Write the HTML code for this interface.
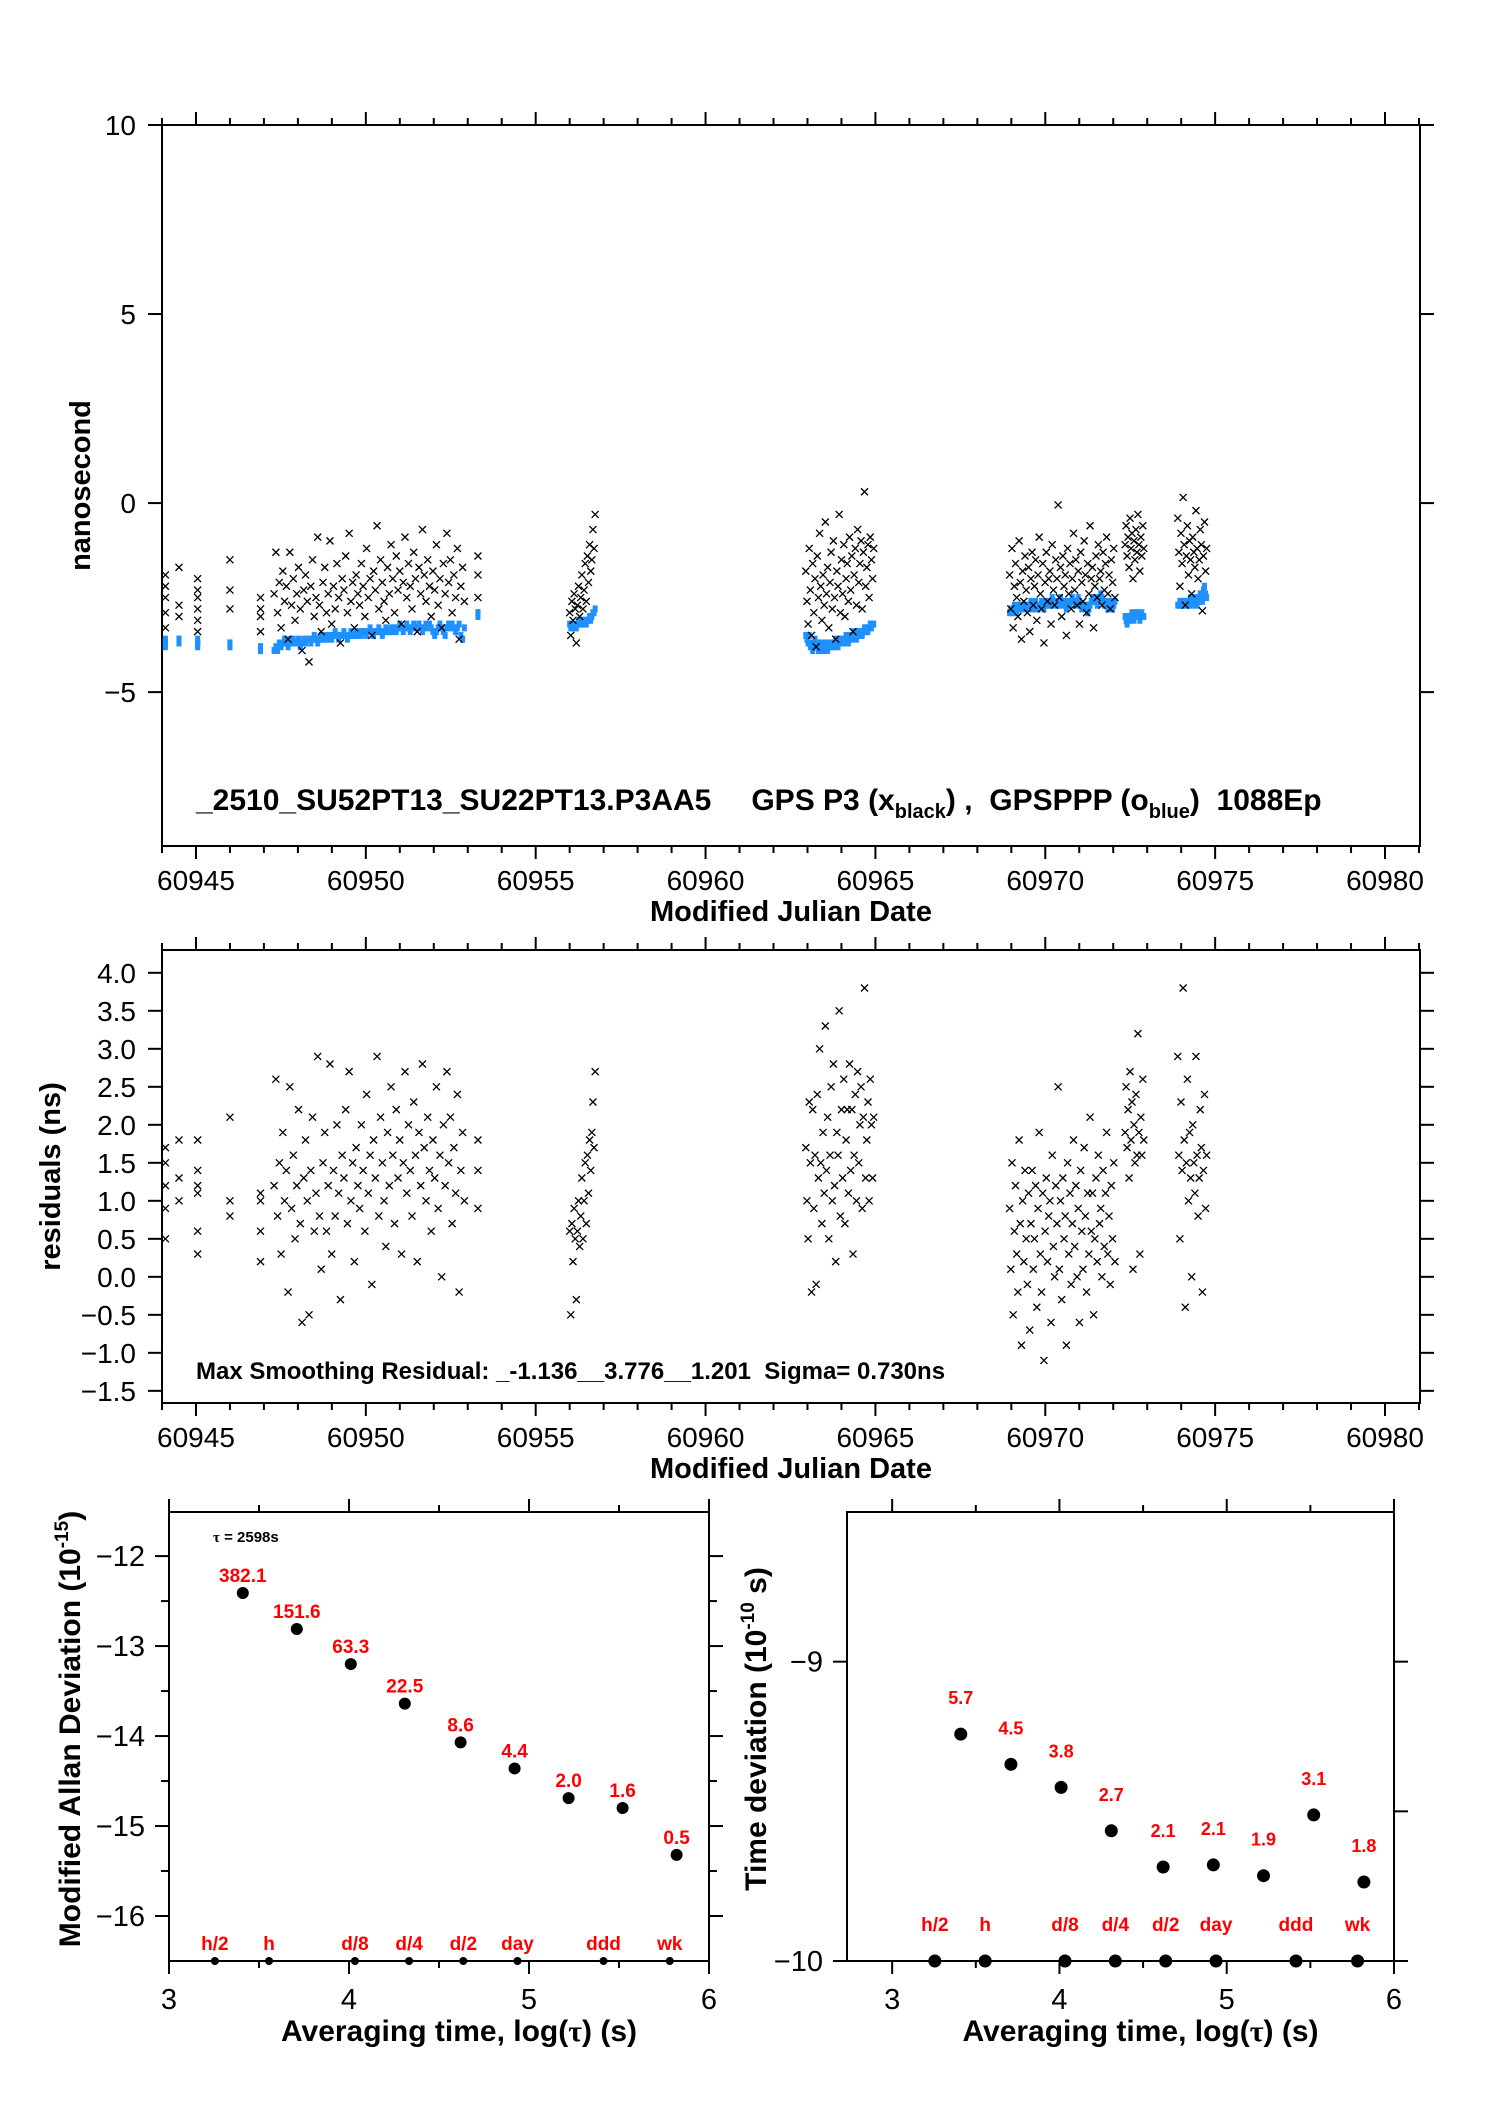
<!DOCTYPE html>
<html><head><meta charset="utf-8"><style>
html,body{margin:0;padding:0;background:#fff}
svg{display:block}
text{font-family:"Liberation Sans",Arial,sans-serif;white-space:pre}
</style></head><body>
<svg id="fig" xmlns="http://www.w3.org/2000/svg" width="1488" height="2105" viewBox="0 0 1488 2105">
<rect width="1488" height="2105" fill="#fff"/>
<g id="top"></g>
<g id="mid"></g>
<g id="adev"></g>
<g id="tdev"></g>
</svg>
<script>
// ---- data ----
const segStart=[60944.1,60944.5,60945.05,60946.0,60946.9,60947.3,60953.3,60956.0,60962.95,60968.95,60972.35,60973.9];
const segEnd  =[60944.1,60944.5,60945.05,60946.0,60946.9,60952.9,60953.3,60956.75,60964.95,60972.05,60972.9,60974.75];
const blackValues=[
[-1.9,-2.5,-2.9,-3.3,-2.2],
[-1.7,-2.7,-3.0],
[-2.0,-2.3,-2.8,-3.1,-3.4,-2.5],
[-1.5,-2.3,-2.8],
[-2.5,-3.0,-3.4,-2.8],
[-2.4,-1.3,-2.9,-2.1,-3.3,-1.8,-2.6,-2.2,-3.6,-1.3,-2.7,-2.0,-3.1,-2.4,-1.7,-2.8,-3.9,-2.3,-1.9,-2.6,-4.2,-2.2,-1.5,-3.0,-2.5,-0.9,-2.7,-3.4,-2.1,-1.7,-2.9,-2.4,-1.0,-3.2,-2.2,-2.8,-1.6,-2.5,-3.7,-2.0,-2.3,-1.4,-2.9,-0.8,-2.6,-2.1,-3.3,-1.9,-2.4,-2.7,-1.6,-2.2,-3.0,-1.2,-2.5,-2.0,-3.5,-1.8,-2.3,-0.6,-2.8,-1.5,-2.1,-2.6,-3.1,-1.7,-2.4,-1.1,-2.0,-2.9,-1.4,-2.3,-1.8,-3.2,-2.1,-0.9,-2.5,-1.6,-2.2,-2.8,-1.3,-2.0,-3.4,-1.7,-2.4,-0.7,-1.9,-2.6,-1.5,-2.2,-3.0,-1.8,-2.3,-1.1,-2.7,-2.0,-3.3,-1.6,-2.4,-0.8,-2.1,-1.5,-2.9,-1.9,-2.5,-1.2,-3.6,-2.2,-1.7,-2.6],
[-1.4,-1.9,-2.5],
[-2.9,-3.5,-2.6,-3.1,-2.4,-2.8,-3.7,-2.7,-2.2,-3.0,-2.5,-1.9,-2.8,-2.3,-1.6,-2.6,-1.4,-2.1,-1.1,-1.8,-1.5,-0.7,-1.2,-0.3],
[-1.8,-2.6,-3.2,-1.2,-2.3,-3.5,-1.6,-2.9,-2.0,-3.8,-1.4,-2.5,-0.8,-2.2,-3.1,-1.9,-2.7,-0.5,-2.4,-1.7,-3.3,-2.1,-1.3,-2.8,-1.0,-2.5,-3.6,-1.8,-2.2,-0.3,-2.9,-1.5,-2.4,-1.1,-3.0,-2.0,-1.6,-2.6,-0.9,-2.3,-1.4,-3.4,-1.9,-1.2,-2.7,-0.7,-2.1,-1.6,-1.0,-2.8,-1.3,0.3,-2.2,-1.7,-1.1,-2.5,-0.9,-1.5,-2.0,-1.2],
[-1.9,-2.8,-1.2,-3.3,-2.2,-1.6,-2.5,-3.0,-1.0,-2.1,-3.6,-1.8,-2.6,-1.4,-2.3,-2.9,-1.7,-3.4,-2.0,-1.3,-2.7,-2.2,-1.5,-3.1,-1.9,-0.9,-2.4,-2.8,-1.6,-3.7,-2.1,-1.3,-2.6,-2.0,-1.8,-3.2,-1.1,-2.3,-2.7,-1.5,-2.0,-0.05,-2.5,-1.7,-3.0,-1.4,-2.2,-1.9,-3.5,-1.2,-2.4,-1.6,-2.8,-2.0,-0.8,-2.3,-1.5,-2.7,-1.8,-3.2,-1.3,-2.1,-2.6,-1.0,-1.9,-2.9,-1.6,-2.4,-0.6,-2.0,-1.7,-3.3,-2.2,-1.4,-2.5,-1.1,-2.0,-1.8,-2.7,-1.3,-2.3,-1.6,-0.9,-2.4,-1.9,-2.8,-1.5,-2.1,-1.2,-2.5],
[-1.1,-0.6,-1.4,-0.9,-1.7,-0.4,-1.2,-0.8,-2.0,-1.0,-1.5,-0.7,-1.3,-0.3,-1.1,-1.8,-0.9,-1.4,-0.6,-1.2],
[-0.4,-1.3,-2.2,-0.8,-1.6,0.15,-1.1,-2.7,-1.4,-0.6,-1.9,-1.0,-1.5,-2.4,-0.9,-1.3,-1.7,-0.2,-1.2,-2.0,-1.5,-0.7,-1.1,-2.85,-1.4,-0.5,-1.8,-1.2]
];
const blueValues=[
[-3.7,-3.8,-3.7,-3.6,-3.7],
[-3.6,-3.6,-3.7],
[-3.7,-3.7,-3.8,-3.7,-3.6,-3.7],
[-3.7,-3.8,-3.7],
[-3.8,-3.9,-3.9,-3.8],
[-3.9,-3.8,-3.9,-3.7,-3.8,-3.7,-3.6,-3.7,-3.8,-3.6,-3.7,-3.6,-3.7,-3.7,-3.6,-3.8,-3.7,-3.6,-3.7,-3.6,-3.6,-3.7,-3.6,-3.5,-3.6,-3.7,-3.6,-3.5,-3.6,-3.6,-3.5,-3.6,-3.5,-3.6,-3.5,-3.4,-3.5,-3.6,-3.5,-3.5,-3.4,-3.5,-3.6,-3.5,-3.4,-3.5,-3.5,-3.4,-3.5,-3.4,-3.5,-3.4,-3.4,-3.5,-3.4,-3.3,-3.4,-3.5,-3.4,-3.4,-3.3,-3.4,-3.5,-3.4,-3.3,-3.4,-3.4,-3.3,-3.4,-3.3,-3.4,-3.3,-3.2,-3.3,-3.4,-3.3,-3.2,-3.3,-3.4,-3.3,-3.2,-3.3,-3.3,-3.2,-3.3,-3.4,-3.3,-3.2,-3.3,-3.2,-3.3,-3.4,-3.5,-3.4,-3.3,-3.2,-3.3,-3.4,-3.5,-3.3,-3.2,-3.3,-3.2,-3.3,-3.4,-3.3,-3.2,-3.5,-3.6,-3.3],
[-2.9,-2.9,-3.0],
[-3.2,-3.3,-3.2,-3.3,-3.2,-3.3,-3.3,-3.2,-3.2,-3.1,-3.2,-3.1,-3.2,-3.1,-3.1,-3.2,-3.1,-3.1,-3.0,-3.1,-3.0,-2.9,-2.9,-2.8],
[-3.5,-3.6,-3.7,-3.5,-3.8,-3.7,-3.9,-3.8,-3.6,-3.7,-3.8,-3.9,-3.8,-3.7,-3.8,-3.9,-3.8,-3.7,-3.8,-3.9,-3.8,-3.7,-3.8,-3.7,-3.8,-3.7,-3.6,-3.7,-3.8,-3.7,-3.6,-3.7,-3.6,-3.7,-3.6,-3.5,-3.6,-3.7,-3.6,-3.5,-3.6,-3.5,-3.4,-3.5,-3.6,-3.5,-3.4,-3.5,-3.4,-3.5,-3.4,-3.3,-3.4,-3.3,-3.4,-3.3,-3.2,-3.3,-3.2,-3.2],
[-2.9,-2.8,-2.9,-2.8,-2.7,-2.8,-2.9,-2.8,-2.7,-2.8,-2.7,-2.8,-2.7,-2.8,-2.8,-2.7,-2.8,-2.7,-2.6,-2.7,-2.8,-2.7,-2.6,-2.7,-2.8,-2.7,-2.7,-2.6,-2.7,-2.8,-2.7,-2.6,-2.7,-2.6,-2.7,-2.6,-2.5,-2.6,-2.7,-2.6,-2.6,-2.7,-2.6,-2.5,-2.6,-2.7,-2.6,-2.7,-2.8,-2.7,-2.6,-2.7,-2.6,-2.5,-2.6,-2.6,-2.7,-2.6,-2.5,-2.6,-2.7,-2.8,-2.7,-2.8,-2.7,-2.8,-2.9,-2.8,-2.7,-2.6,-2.5,-2.6,-2.5,-2.6,-2.7,-2.6,-2.5,-2.4,-2.5,-2.6,-2.7,-2.6,-2.7,-2.8,-2.7,-2.6,-2.7,-2.8,-2.7,-2.6],
[-3.0,-3.1,-3.2,-3.1,-3.0,-3.1,-3.0,-2.9,-3.0,-3.1,-3.0,-2.9,-3.0,-2.9,-3.0,-3.1,-3.0,-2.9,-3.0,-3.0],
[-2.7,-2.7,-2.6,-2.7,-2.6,-2.7,-2.6,-2.7,-2.6,-2.6,-2.7,-2.6,-2.5,-2.6,-2.7,-2.6,-2.5,-2.6,-2.7,-2.6,-2.5,-2.4,-2.5,-2.6,-2.3,-2.2,-2.4,-2.5]
];
const residValues=[
[1.7,1.2,0.9,0.5,1.5],
[1.8,1.3,1.0],
[1.8,1.4,1.1,0.6,0.3,1.2],
[2.1,1.0,0.8],
[1.0,0.6,0.2,1.1],
[1.2,2.6,0.8,1.5,0.3,1.9,1.0,1.4,-0.2,2.5,0.9,1.6,0.5,1.2,2.2,0.7,-0.6,1.3,1.8,1.0,-0.5,1.4,2.1,0.6,1.1,2.9,0.8,0.1,1.5,1.9,0.6,1.2,2.8,0.3,1.4,0.8,2.0,1.1,-0.3,1.6,1.3,2.2,0.7,2.7,1.0,1.5,0.2,1.7,1.2,0.9,2.0,1.4,0.6,2.4,1.1,1.6,-0.1,1.8,1.3,2.9,0.8,2.1,1.5,1.0,0.4,1.9,1.2,2.5,1.6,0.7,2.2,1.3,1.8,0.3,1.5,2.7,1.1,2.0,1.4,0.8,2.3,1.6,0.2,1.9,1.2,2.8,1.7,1.0,2.1,1.4,0.6,1.8,1.3,2.5,0.9,1.6,0.0,2.0,1.2,2.7,1.5,2.1,0.7,1.7,1.1,2.4,-0.2,1.4,1.9,1.0],
[1.8,1.4,0.9],
[0.6,-0.5,0.7,0.2,0.9,0.5,-0.3,0.6,1.0,0.4,0.8,1.3,0.5,1.0,1.5,0.7,1.6,1.1,1.8,1.4,1.9,2.3,1.7,2.7],
[1.7,1.0,0.5,2.3,1.5,-0.2,2.2,0.9,1.6,-0.1,2.4,1.3,3.0,1.5,0.7,1.9,1.1,3.3,1.4,2.1,0.5,1.6,2.5,1.0,2.8,1.2,0.2,1.9,1.6,3.5,0.8,2.2,1.3,2.6,0.7,1.8,2.2,1.1,2.8,1.4,2.2,0.3,1.6,2.4,1.0,2.7,1.5,2.0,2.5,0.9,2.1,3.8,1.3,1.8,2.3,1.0,2.6,2.0,1.3,2.1],
[0.9,0.1,1.5,-0.5,0.6,1.2,0.3,-0.2,1.8,0.7,-0.9,1.0,0.2,1.4,0.5,-0.1,1.1,-0.7,0.7,1.4,0.1,0.5,1.2,-0.4,0.9,1.9,0.3,-0.2,1.1,-1.1,0.6,1.3,0.2,0.8,1.0,-0.6,1.6,0.4,0.0,1.2,0.7,2.5,0.1,1.0,-0.3,1.3,0.5,0.8,-0.9,1.5,0.3,1.1,-0.1,0.7,1.8,0.4,1.2,0.0,0.9,-0.6,1.4,0.6,0.1,1.7,0.8,-0.2,1.1,0.3,2.1,0.6,1.1,-0.5,0.5,1.3,0.2,1.6,0.7,0.9,0.0,1.4,0.4,1.1,1.9,0.3,0.8,-0.1,1.2,0.5,1.5,0.2],
[1.9,2.5,1.7,2.2,1.3,2.7,1.8,2.3,0.1,2.0,1.5,2.4,1.6,3.2,1.9,0.3,2.1,1.6,2.6,1.8],
[2.9,1.6,0.5,2.3,1.4,3.8,1.8,-0.4,1.5,2.6,1.0,1.9,1.3,0.0,2.0,1.5,1.1,2.9,1.6,0.8,1.3,2.2,1.7,-0.2,1.4,2.4,0.9,1.6]
];
const mjdTicks=[60945,60950,60955,60960,60965,60970,60975,60980];
const topYTicks=[10,5,0,-5];
const midYTicks=[4.0,3.5,3.0,2.5,2.0,1.5,1.0,0.5,0.0,-0.5,-1.0,-1.5];
const logTau=[3.41,3.71,4.01,4.31,4.62,4.92,5.22,5.52,5.82];
const adevVals=[-12.41,-12.81,-13.20,-13.64,-14.07,-14.36,-14.69,-14.80,-15.32];
const adevLabels=["382.1","151.6","63.3","22.5","8.6","4.4","2.0","1.6","0.5"];
const tdevVals=[-9.242,-9.343,-9.420,-9.565,-9.686,-9.679,-9.715,-9.512,-9.736];
const tdevLabels=["5.7","4.5","3.8","2.7","2.1","2.1","1.9","3.1","1.8"];
const tauMarks=[3.255,3.556,4.033,4.334,4.635,4.936,5.414,5.782];
const tauNames=["h/2","h","d/8","d/4","d/2","day","ddd","wk"];
const adevYTicks=[-12,-13,-14,-15,-16];
const tdevYTicks=[-9,-10];
const logXTicks=[3,4,5,6];

const NS='http://www.w3.org/2000/svg';
function mk(parent,tag,attrs,txt){const e=document.createElementNS(NS,tag);for(const k in attrs)e.setAttribute(k,attrs[k]);if(txt!==undefined)e.textContent=txt;parent.appendChild(e);return e;}
function lin(d0,d1,r0,r1){return v=>r0+(v-d0)*(r1-r0)/(d1-d0);}
function ln(g,x1,y1,x2,y2,w){return mk(g,'line',{x1,y1,x2,y2,stroke:'#000','stroke-width':w||2});}

// ---------- MJD plots ----------
function mjdFrame(g,top,bot,yMin,yMax,yTicks,yFmt,ytitle,ytitleX){
  const L=162,R=1420;
  const X=lin(60944,60981.03,L,R), Y=lin(yMin,yMax,bot,top);
  const fr=mk(g,'rect',{x:L,y:top,width:R-L,height:bot-top,fill:'none',stroke:'#000','stroke-width':2});
  
  
  for(let d=60944;d<=60981;d++){
    const maj=(d%5===0), len=maj?13:7;
    ln(g,X(d),top,X(d),top-len);
    ln(g,X(d),bot,X(d),bot+len);
  }
  mjdTicks.forEach(t=>{
    const e=mk(g,'text',{x:X(t),y:bot+44,'font-size':28,'text-anchor':'middle'},String(t));
    
    
  });
  yTicks.forEach(t=>{
    ln(g,L,Y(t),L-14,Y(t)); ln(g,R,Y(t),R+14,Y(t));
    const e=mk(g,'text',{x:L-26,y:Y(t)+10,'font-size':28,'text-anchor':'end'},yFmt(t));
    
    
  });
  const xt=mk(g,'text',{x:791,y:bot+75,'font-size':29,'font-weight':'bold','text-anchor':'middle'},'Modified Julian Date');
  
  
  const cy=(top+bot)/2;
  const yt=mk(g,'text',{x:ytitleX,y:cy,'font-size':29,'font-weight':'bold','text-anchor':'middle',transform:`rotate(-90 ${ytitleX} ${cy})`},ytitle);
  
  
  return {X,Y};
}
function mjdOf(s,i,n){return n>1?segStart[s]+(segEnd[s]-segStart[s])*i/(n-1):segStart[s];}
function cross(g,x,y){const p=mk(g,'path',{d:`M${x-3.5} ${y-3.5}L${x+3.5} ${y+3.5}M${x-3.5} ${y+3.5}L${x+3.5} ${y-3.5}`,stroke:'#000','stroke-width':1.3,fill:'none'});
  
  }

const gt=document.getElementById('top');
const A=mjdFrame(gt,125,846,-9.07,10,topYTicks,t=>t<0?'\u2212'+(-t):String(t),'nanosecond',90);
const blueG=mk(gt,'g',{});


blueValues.forEach((arr,s)=>arr.forEach((v,i)=>{
  const r=mk(blueG,'rect',{x:A.X(mjdOf(s,i,arr.length))-2.5,y:A.Y(v)-3.5,width:5,height:7,fill:'#1e90ff'});
  
  
}));
const blackG=mk(gt,'g',{});


blackValues.forEach((arr,s)=>arr.forEach((v,i)=>cross(blackG,A.X(mjdOf(s,i,arr.length)),A.Y(v))));
const cap=mk(gt,'text',{x:196,y:810,'font-size':30,'font-weight':'bold'});


cap.innerHTML='_2510_SU52PT13_SU22PT13.P3AA5<tspan dx="40">GPS P3 (x</tspan><tspan font-size="20" dy="8">black</tspan><tspan dy="-8">) ,  GPSPPP (o</tspan><tspan font-size="20" dy="8">blue</tspan><tspan dy="-8">)  1088Ep</tspan>';

const gm=document.getElementById('mid');
const B=mjdFrame(gm,950,1403,-1.66,4.30,midYTicks,t=>t<0?'\u2212'+(-t).toFixed(1):t.toFixed(1),'residuals (ns)',60);
const resG=mk(gm,'g',{});


residValues.forEach((arr,s)=>arr.forEach((v,i)=>cross(resG,B.X(mjdOf(s,i,arr.length)),B.Y(v))));
const mc=mk(gm,'text',{x:196,y:1379,'font-size':24,'font-weight':'bold'},'Max Smoothing Residual: _-1.136__3.776__1.201  Sigma= 0.730ns');



// ---------- stability plots ----------
function stabFrame(g,L,R,xMin,yMin,yMax,yTicks,minorTicks,minorLeft,ytitleHTML,ytX){
  const top=1512,bot=1961;
  const X=lin(xMin,6,L,R), Y=lin(yMin,yMax,bot,top);
  const fr=mk(g,'rect',{x:L,y:top,width:R-L,height:bot-top,fill:'none',stroke:'#000','stroke-width':2});
  
  
  for(let v=3;v<=6.001;v+=0.5){
    const maj=Math.abs(v-Math.round(v))<1e-6, len=maj?13:7;
    ln(g,X(v),top,X(v),top-len); ln(g,X(v),bot,X(v),bot+len);
  }
  logXTicks.forEach(t=>{
    const e=mk(g,'text',{x:X(t),y:2009,'font-size':29,'text-anchor':'middle'},String(t));
    
    
  });
  yTicks.forEach(t=>{
    ln(g,L,Y(t),L-14,Y(t)); ln(g,R,Y(t),R+14,Y(t));
    const e=mk(g,'text',{x:L-24,y:Y(t)+10,'font-size':29,'text-anchor':'end'},'\u2212'+(-t));
    
    
  });
  minorTicks.forEach(t=>{ if(minorLeft) ln(g,L,Y(t),L-8,Y(t)); ln(g,R,Y(t),R+(minorLeft?8:14),Y(t)); });
  const xt=mk(g,'text',{x:(L+R)/2+20,y:2041,'font-size':30,'font-weight':'bold','text-anchor':'middle'});
  xt.innerHTML='Averaging time, log(<tspan font-family="Liberation Serif">\u03c4</tspan>) (s)';
  
  
  const cy=1729;
  const yt=mk(g,'text',{x:ytX,y:cy,'font-size':30,'font-weight':'bold','text-anchor':'middle',transform:`rotate(-90 ${ytX} ${cy})`});
  yt.innerHTML=ytitleHTML;
  
  
  return {X,Y};
}
function stabPoints(g,S,vals,labels,r,labOff,fs){
  logTau.forEach((t,i)=>{
    const c=mk(g,'circle',{cx:S.X(t),cy:S.Y(vals[i]),r,fill:'#000'});
    
    
    const e=mk(g,'text',{x:S.X(t),y:S.Y(vals[i])-labOff,'font-size':fs,'font-weight':'bold',fill:'#f00','text-anchor':'middle'},labels[i]);
    
    
  });
}
function tauRow(g,S,yv,r,labY){
  tauMarks.forEach((t,i)=>{
    const c=mk(g,'circle',{cx:S.X(t),cy:S.Y(yv),r,fill:'#000'});
    
    
    const e=mk(g,'text',{x:S.X(t),y:labY,'font-size':19,'font-weight':'bold',fill:'#f00','text-anchor':'middle'},tauNames[i]);
    
    
  });
}
const ga=document.getElementById('adev');
const C=stabFrame(ga,169,709,3,-16.5,-11.51,adevYTicks,[-12.5,-13.5,-14.5,-15.5],true,'Modified Allan Deviation (10<tspan font-size="19" dy="-12">-15</tspan><tspan dy="12">)</tspan>',80);
stabPoints(ga,C,adevVals,adevLabels,6,11,19);
tauRow(ga,C,-16.5,4,1950);
const tl=mk(ga,'text',{x:213,y:1542,'font-size':15,'font-weight':'bold'});
tl.innerHTML='<tspan font-family="Liberation Serif">\u03c4</tspan> = 2598s';



const gd=document.getElementById('tdev');
const D=stabFrame(gd,847,1394,2.73,-10,-8.5,tdevYTicks,[-9.5],false,'Time deviation (10<tspan font-size="19" dy="-12">-10</tspan><tspan dy="12"> s)</tspan>',766);
stabPoints(gd,D,tdevVals,tdevLabels,6.5,30,18);
tauRow(gd,D,-10,6.5,1931);
</script>
</body></html>
